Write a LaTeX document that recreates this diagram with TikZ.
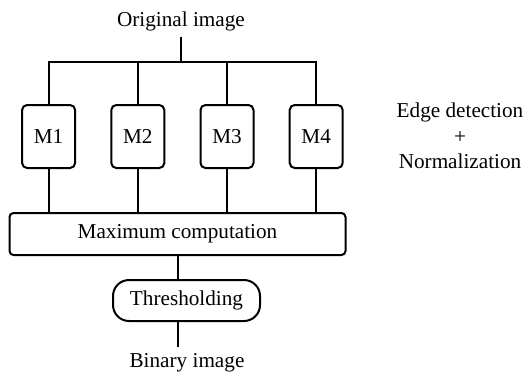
\documentclass[tikz,border=0pt]{standalone}
\usepackage{fontspec}
\setmainfont{Liberation Serif}
\usetikzlibrary{positioning}
\tikzset{%
  % Specifications for style of nodes:
            base/.style = {rectangle, rounded corners=2.5pt, draw=black,
                           line width=1pt, text centered, inner sep=0pt},
            module/.style = {base, minimum width=26.5pt, minimum height=31.5pt},
            merge/.style = {base, rounded corners=2pt,
                            minimum width=168pt, minimum height=21pt},
            threshold/.style = {base, rounded corners=8pt,
                                minimum width=73.5pt, minimum height=20.5pt},
            ioText/.style = {inner sep=2.5pt},
 }

\begin{document}
\begin{tikzpicture}[line width=1pt, every node/.style={font=\fontsize{10.6}{12.7}\selectfont}, align=center]
  \useasboundingbox (0,0) rectangle (261.5pt,-187.5pt);
  % Specification of nodes (position, etc.)
     \node (origImg) [ioText, anchor=base] at (90.5pt,-13pt) {Original image};
     \coordinate (bus) at (90.5pt,-30.75pt);

     \node (mOne) [module] at (24.3pt,-68.25pt) {M1};
     \node (mTwo) [module, right=17.1pt of mOne] {M2};
     \node (mThree) [module, right=17.1pt of mTwo] {M3};
     \node (mFour) [module, right=17.1pt of mThree] {M4};

     \node (edgeNorm) at (230pt,-68pt) {Edge detection\\+\\Normalization};

     \node (maxComp) [merge] at (88.75pt,-117pt) {Maximum computation};
     \node (thresh) [threshold] at (93.25pt,-150.25pt) {Thresholding};
     \node (binImg) [ioText, anchor=base] at (93.5pt,-183.5pt) {Binary image};


     \draw (origImg.south) -- (bus);
     \draw (mOne.north) -- (mOne.north |- bus) -- (mFour.north |- bus) -- (mFour.north);
     \draw (mTwo.north) -- (mTwo.north |- bus);
     \draw (mThree.north) -- (mThree.north |- bus);

     \draw (mOne.south) -- (mOne.south |- maxComp.north);
     \draw (mTwo.south) -- (mTwo.south |- maxComp.north);
     \draw (mThree.south) -- (mThree.south |- maxComp.north);
     \draw (mFour.south) -- (mFour.south |- maxComp.north);

     \draw (maxComp.south) -- (maxComp.south |- thresh.north);
     \draw (thresh.south -| maxComp.south) -- (maxComp.south |- binImg.north);

   \end{tikzpicture}
\end{document}
